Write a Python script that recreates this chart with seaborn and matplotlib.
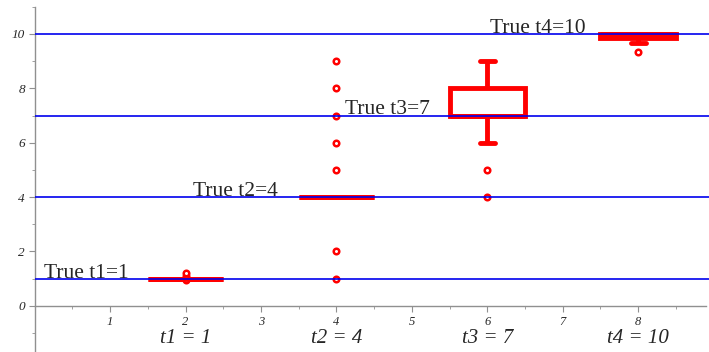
import numpy as np
import pandas as pd
import matplotlib
matplotlib.use("Agg")
import matplotlib.pyplot as plt
import seaborn as sns
from matplotlib.ticker import MultipleLocator

# sample values per group
g1 = [0.95, 1.0, 1.0, 1.0, 1.0, 1.0, 1.0, 1.0, 1.0, 1.0, 1.0, 1.1, 1.2]
g2 = [1, 2, 4, 4, 4, 4, 4, 4, 4, 4, 4, 4, 4, 4, 4, 4, 4, 4, 4, 4, 5, 6, 7, 8, 9]
g3 = [4, 5, 6, 7, 7, 7, 7, 7, 7, 8, 8, 8, 8, 8, 9]
g4 = [9.35, 9.65, 9.85, 9.85, 9.9, 9.95, 10, 10, 10, 10, 10, 10, 10]
positions = [2, 4, 6, 8]
true_vals = [1, 4, 7, 10]
true_labels = ["True t1=1", "True t2=4", "True t3=7", "True t4=10"]
label_x = [0.12, 2.1, 4.12, 6.03]
cat_labels = ["t1 = 1", "t2 = 4", "t3 = 7", "t4 = 10"]

rows = []
for pos, vals in zip(positions, [g1, g2, g3, g4]):
    for v in vals:
        rows.append({"pos": pos, "value": v})
df = pd.DataFrame(rows)

sns.set_style("white")
plt.rcParams["font.family"] = ["Liberation Serif", "DejaVu Serif"]

fig = plt.figure(figsize=(7.09, 3.52), dpi=100)
ax = fig.add_axes([0, 0, 1, 1])

sns.boxplot(data=df, x="pos", y="value", native_scale=True, width=0.5,
            color="white", linecolor="red", linewidth=3.5, whis=1.5,
            flierprops=dict(marker="o", markerfacecolor="white",
                            markeredgecolor="red", markersize=4,
                            markeredgewidth=1.8),
            ax=ax)

# narrow caps (about a fifth of the box width)
for ln in ax.lines:
    xd = np.asarray(ln.get_xdata(), dtype=float)
    yd = np.asarray(ln.get_ydata(), dtype=float)
    if len(xd) == 2 and yd[0] == yd[1] and 0 < abs(xd[1] - xd[0]) < 0.9:
        c = xd.mean()
        ln.set_xdata([c - 0.1, c + 0.1])

# horizontal reference lines for the true values
ax.hlines(true_vals, 0, 8.94, color="#0000ee", lw=1.2, zorder=5)
for x, y, lab in zip(label_x, true_vals, true_labels):
    ax.text(x, y + 0.04, lab, fontsize=15.5, va="baseline", ha="left", zorder=6)

ax.set_xlim(-0.46, 8.94)
ax.set_ylim(-1.7, 11.25)

for s in ["top", "right"]:
    ax.spines[s].set_visible(False)
ax.spines["left"].set_position(("data", 0))
ax.spines["bottom"].set_position(("data", 0))
ax.spines["left"].set_bounds(-1.7, 11.0)
ax.spines["bottom"].set_bounds(0, 8.9)
for s in ["left", "bottom"]:
    ax.spines[s].set_color("#909090")
    ax.spines[s].set_linewidth(1.0)

ax.set_xticks(range(1, 9))
ax.set_xticklabels([str(i) for i in range(1, 9)], fontstyle="italic", fontsize=9)
ax.set_yticks(range(0, 11, 2))
ax.set_yticklabels([str(i) for i in range(0, 11, 2)], fontstyle="italic", fontsize=9.5)
ax.xaxis.set_minor_locator(MultipleLocator(0.5))
ax.yaxis.set_minor_locator(MultipleLocator(1))
ax.tick_params(axis="both", which="major", direction="out", length=4,
               color="#909090", bottom=True, left=True, pad=3)
ax.tick_params(axis="both", which="minor", direction="out", length=2.5,
               color="#909090", bottom=True, left=True)
ax.set_xlabel("")
ax.set_ylabel("")

for x, lab in zip(positions, cat_labels):
    ax.text(x, -1.2, lab, fontsize=15, fontstyle="italic", ha="center",
            va="center")

fig.savefig("out.png", dpi=100)
